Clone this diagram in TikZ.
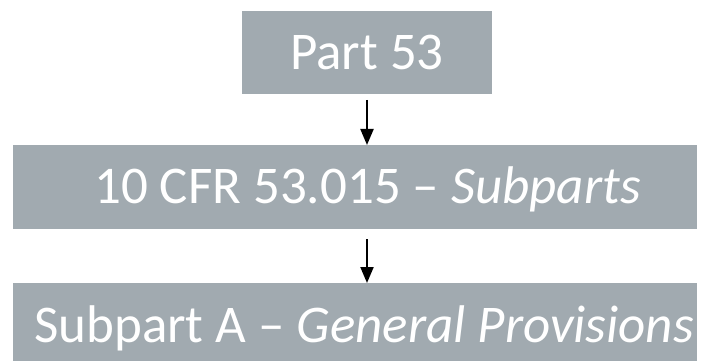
\documentclass[tikz,border=0pt]{standalone}
\usepackage{fontspec}
\setmainfont{Carlito}
\usetikzlibrary{arrows.meta}
\definecolor{boxgray}{RGB}{161,170,176}
\tikzset{
  box/.style={fill=boxgray, draw=none, text=white, inner sep=0pt, anchor=north west},
  lbl/.style={text=white, font=\fontsize{53}{60}\selectfont, inner sep=0pt, anchor=base},
  conn/.style={line width=2pt, -{Triangle[width=13pt,length=16pt]}}
}
\begin{document}
\begin{tikzpicture}[x=1pt,y=-1pt]
\useasboundingbox (0,0) rectangle (705,361);
\node[box, minimum width=250pt, minimum height=83pt] (b1) at (242,11) {};
\node[box, minimum width=684pt, minimum height=84pt] (b2) at (13,145) {};
\node[box, minimum width=684pt, minimum height=78pt] (b3) at (13,283) {};
\node[lbl] (t1) at (367,70) {Part 53};
\node[lbl] (t2) at (367.5,203) {10 CFR 53.015 – \textit{Subparts}};
\node[lbl] (t3) at (364,342) {Subpart A – \textit{General Provisions}};
\coordinate (a1s) at (367,100);
\coordinate (a2s) at (367,239);
\draw[conn] (a1s) -- (b2.north -| a1s);
\draw[conn] (a2s) -- (b3.north -| a2s);
\end{tikzpicture}
\end{document}
